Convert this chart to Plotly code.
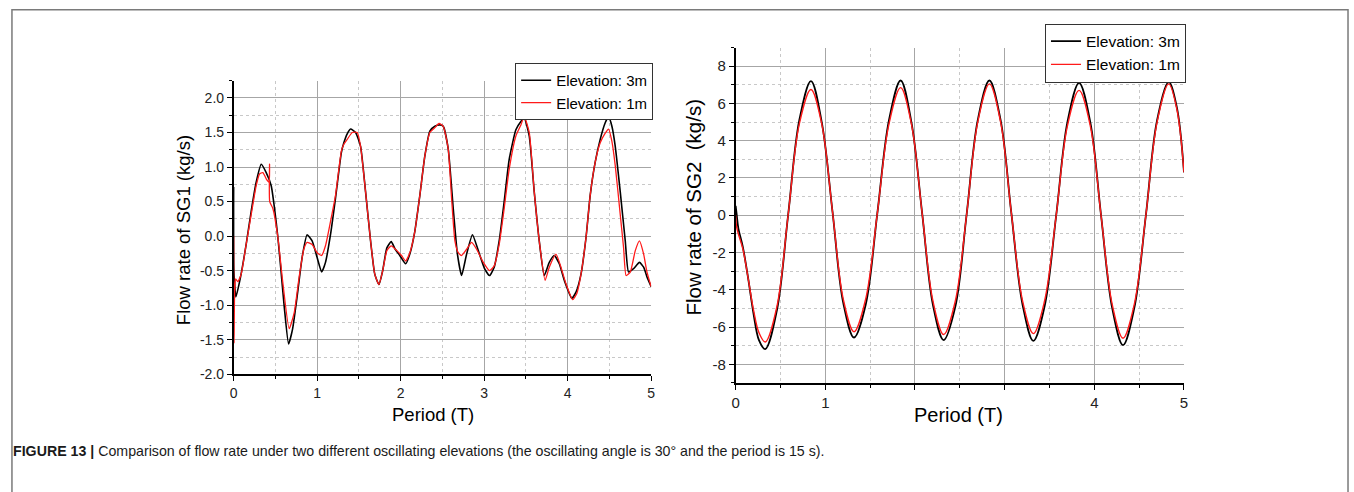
import plotly.graph_objects as go

# ---------------- Data ----------------
# Left panel: flow rate of SG1 (kg/s) vs period (T)
sg1_x_3m = [0, 0.003, 0.027, 0.083, 0.15, 0.21, 0.27, 0.33, 0.39, 0.45,
            0.49, 0.53, 0.567, 0.606, 0.658, 0.705, 0.765, 0.82, 0.88, 0.94,
            1.0, 1.054, 1.10, 1.16, 1.22, 1.29, 1.32, 1.36, 1.40, 1.46,
            1.52, 1.58, 1.64, 1.69, 1.74, 1.785, 1.835, 1.887, 1.935, 1.99,
            2.06, 2.11, 2.17, 2.23, 2.29, 2.35, 2.41, 2.47, 2.51, 2.57,
            2.63, 2.68, 2.73, 2.79, 2.86, 2.93, 3.005, 3.065, 3.12, 3.18,
            3.24, 3.30, 3.38, 3.44, 3.48, 3.54, 3.60, 3.66, 3.72, 3.78,
            3.84, 3.90, 3.96, 4.05, 4.10, 4.16, 4.22, 4.27, 4.33, 4.39,
            4.45, 4.49, 4.53, 4.57, 4.63, 4.69, 4.73, 4.79, 4.86, 4.91,
            4.95, 5.0]
sg1_y_3m = [0.71, -0.5, -0.88, -0.59, -0.12, 0.36, 0.78, 1.04, 0.92, 0.73,
            0.40, -0.02, -0.50, -1.02, -1.56, -1.35, -0.83, -0.31, 0.02, -0.07,
            -0.31, -0.52, -0.38, 0.02, 0.55, 1.21, 1.35, 1.48, 1.55, 1.50,
            1.30, 0.64, -0.07, -0.55, -0.70, -0.50, -0.17, -0.08, -0.19, -0.28,
            -0.40, -0.26, 0.07, 0.59, 1.16, 1.52, 1.59, 1.61, 1.59, 1.26,
            0.40, -0.26, -0.57, -0.26, 0.02, -0.21, -0.47, -0.57, -0.45, -0.07,
            0.50, 1.11, 1.54, 1.66, 1.71, 1.45, 0.64, -0.07, -0.57, -0.38,
            -0.28, -0.40, -0.64, -0.90, -0.81, -0.55, -0.02, 0.59, 1.07, 1.40,
            1.64, 1.73, 1.59, 1.30, 0.64, -0.07, -0.52, -0.47, -0.38, -0.45,
            -0.59, -0.73]

sg1_x_1m = [0, 0.005, 0.012, 0.025, 0.05, 0.09, 0.15, 0.21, 0.27, 0.31,
            0.35, 0.39, 0.425, 0.43, 0.432, 0.47, 0.53, 0.586, 0.665, 0.725,
            0.785, 0.84, 0.88, 0.94, 1.0, 1.054, 1.10, 1.16, 1.22, 1.29,
            1.32, 1.36, 1.42, 1.48, 1.52, 1.58, 1.64, 1.69, 1.74, 1.785,
            1.835, 1.887, 1.955, 2.01, 2.06, 2.11, 2.17, 2.23, 2.29, 2.35,
            2.41, 2.46, 2.51, 2.57, 2.61, 2.65, 2.69, 2.73, 2.79, 2.85,
            2.91, 2.99, 3.065, 3.12, 3.18, 3.24, 3.30, 3.38, 3.44, 3.48,
            3.54, 3.60, 3.66, 3.73, 3.78, 3.86, 3.92, 3.98, 4.06, 4.11,
            4.16, 4.22, 4.27, 4.33, 4.39, 4.45, 4.49, 4.53, 4.57, 4.63,
            4.67, 4.70, 4.75, 4.81, 4.86, 4.91, 4.95, 5.0]
sg1_y_1m = [0.0, -1.55, -0.8, -0.62, -0.66, -0.55, -0.12, 0.31, 0.73, 0.90,
            0.92, 0.83, 0.78, 1.04, 0.50, 0.40, -0.02, -0.64, -1.34, -1.11,
            -0.59, -0.19, -0.09, -0.12, -0.24, -0.28, -0.14, 0.21, 0.59, 1.23,
            1.33, 1.40, 1.50, 1.50, 1.30, 0.64, -0.07, -0.55, -0.70, -0.50,
            -0.21, -0.14, -0.21, -0.28, -0.36, -0.24, 0.07, 0.59, 1.16, 1.50,
            1.57, 1.63, 1.59, 1.26, 0.55, -0.07, -0.24, -0.28, -0.19, -0.09,
            -0.19, -0.38, -0.50, -0.43, -0.12, 0.40, 0.97, 1.45, 1.61, 1.73,
            1.50, 0.64, -0.07, -0.64, -0.45, -0.26, -0.45, -0.69, -0.92, -0.83,
            -0.55, -0.02, 0.59, 1.07, 1.35, 1.49, 1.55, 1.37, 1.02, 0.31,
            -0.17, -0.57, -0.52, -0.21, -0.07, -0.26, -0.52, -0.73]

# Right panel: flow rate of SG2 (kg/s) vs period (T)
sg2_x = [0, 0.01, 0.03, 0.08, 0.14, 0.2, 0.26, 0.33,
         0.46, 0.585, 0.71, 0.84,
         0.96, 1.08, 1.2, 1.32,
         1.45, 1.58, 1.71, 1.84,
         1.96, 2.08, 2.2, 2.32,
         2.45, 2.575, 2.70, 2.83,
         2.955, 3.075, 3.2, 3.32,
         3.445, 3.575, 3.70, 3.83,
         3.955, 4.075, 4.2, 4.32,
         4.445, 4.575, 4.70, 4.83,
         4.92, 5.0]
sg2_y_3m = [0.5, 0.1, -0.7, -1.7, -3.4, -5.3, -6.7, -7.18,
            -5.1, 0.0, 5.1, 7.2,
            5.0, 0.2, -4.7, -6.56,
            -4.8, 0.1, 5.1, 7.23,
            5.0, 0.1, -4.8, -6.7,
            -4.9, 0.0, 5.1, 7.23,
            5.1, 0.1, -4.8, -6.74,
            -4.9, 0.0, 5.0, 7.1,
            5.0, 0.0, -5.0, -6.97,
            -5.0, 0.0, 5.1, 7.14,
            5.8, 2.3]
sg2_y_1m = [0.0, -0.6, -1.0, -1.8, -3.4, -5.1, -6.3, -6.8,
            -4.9, 0.0, 4.9, 6.75,
            4.9, 0.2, -4.5, -6.25,
            -4.5, 0.1, 4.9, 6.85,
            4.9, 0.1, -4.6, -6.4,
            -4.6, 0.0, 5.0, 7.05,
            5.0, 0.1, -4.6, -6.35,
            -4.6, 0.0, 4.8, 6.7,
            4.8, 0.0, -4.8, -6.6,
            -4.8, 0.0, 5.0, 7.05,
            5.7, 2.3]

series_names = ["Elevation: 3m", "Elevation: 1m"]
left_yticks = [-2.0, -1.5, -1.0, -0.5, 0.0, 0.5, 1.0, 1.5, 2.0]
right_yticks = [-8, -6, -4, -2, 0, 2, 4, 6, 8]
x_ticks = [0, 1, 2, 3, 4, 5]
left_xticktext = ["0", "1", "2", "3", "4", "5"]
right_xticktext = ["0", "1", "", "", "4", "5"]

# ---------------- Figure ----------------
W, H = 1354, 492
FONT = "Liberation Sans, Arial, sans-serif"
BLACK = "#000000"
RED = "#ff1a1a"

fig = go.Figure()
fig.add_trace(go.Scatter(x=sg1_x_3m, y=sg1_y_3m, name=series_names[0], mode="lines",
                         line=dict(color=BLACK, width=1.6, shape="spline", smoothing=0.5),
                         xaxis="x", yaxis="y", legend="legend"))
fig.add_trace(go.Scatter(x=sg1_x_1m, y=sg1_y_1m, name=series_names[1], mode="lines",
                         line=dict(color=RED, width=1.3, shape="spline", smoothing=0.5),
                         xaxis="x", yaxis="y", legend="legend"))
fig.add_trace(go.Scatter(x=sg2_x, y=sg2_y_3m, name=series_names[0], mode="lines",
                         line=dict(color=BLACK, width=1.8, shape="spline", smoothing=1.0),
                         xaxis="x2", yaxis="y2", legend="legend2"))
fig.add_trace(go.Scatter(x=sg2_x, y=sg2_y_1m, name=series_names[1], mode="lines",
                         line=dict(color=RED, width=1.4, shape="spline", smoothing=1.0),
                         xaxis="x2", yaxis="y2", legend="legend2"))

GRID = "#a6a6a6"
MINOR = "#c8c8c8"


def axis_common(fs):
    return dict(showline=True, linecolor=BLACK, linewidth=1.5, ticks="outside",
                ticklen=5, tickwidth=1, tickcolor=BLACK, showgrid=True,
                gridcolor=GRID, gridwidth=1, zeroline=False,
                tickfont=dict(family=FONT, size=fs, color="#222222"))


xa = axis_common(14)
xa.update(domain=[231 / W, 651 / W], range=[0, 5], anchor="y",
          tickvals=x_ticks, ticktext=left_xticktext,
          minor=dict(dtick=0.5, tick0=0, ticks="outside", ticklen=3, tickcolor=BLACK,
                     showgrid=True, gridcolor=MINOR, griddash="dot", gridwidth=1))
ya = axis_common(14)
ya.update(domain=[1 - 380.5 / H, 1 - 82 / H], range=[-2.0, 2.25], anchor="x",
          tickvals=left_yticks, ticktext=[f"{v:.1f}" for v in left_yticks],
          minor=dict(dtick=0.25, tick0=0, ticks="outside", ticklen=3, tickcolor=BLACK,
                     showgrid=True, gridcolor=MINOR, griddash="dot", gridwidth=1))
xa2 = axis_common(15)
xa2.update(domain=[736 / W, 1187 / W], range=[0, 5], anchor="y2",
           tickvals=x_ticks, ticktext=right_xticktext,
           minor=dict(dtick=0.5, tick0=0, ticks="outside", ticklen=3, tickcolor=BLACK,
                      showgrid=True, gridcolor=MINOR, griddash="dot", gridwidth=1))
ya2 = axis_common(15)
ya2.update(domain=[1 - 389.3 / H, 1 - 48.3 / H], range=[-9, 9], anchor="x2",
           tickvals=right_yticks, ticktext=[str(v) for v in right_yticks],
           minor=dict(dtick=1, tick0=0, ticks="outside", ticklen=3, tickcolor=BLACK,
                      showgrid=True, gridcolor=MINOR, griddash="dot", gridwidth=1))

legend_common = dict(bgcolor="white", bordercolor="#333333", borderwidth=1,
                     xanchor="right", yanchor="top", tracegroupgap=0,
                     itemclick=False, itemdoubleclick=False)
leg1 = dict(legend_common, x=653 / W, y=1 - 64 / H,
            font=dict(family=FONT, size=15, color=BLACK))
leg2 = dict(legend_common, x=1189 / W, y=1 - 24 / H,
            font=dict(family=FONT, size=15.5, color=BLACK))

annotations = [
    dict(text="Period (T)", x=432 / W, y=1 - 421 / H, xref="paper", yref="paper",
         showarrow=False, font=dict(family=FONT, size=18.5, color=BLACK),
         xanchor="center", yanchor="middle"),
    dict(text="Period (T)", x=960 / W, y=1 - 422 / H, xref="paper", yref="paper",
         showarrow=False, font=dict(family=FONT, size=20, color=BLACK),
         xanchor="center", yanchor="middle"),
    dict(text="Flow rate of SG1 (kg/s)", x=180 / W, y=1 - 234 / H, xref="paper",
         yref="paper", showarrow=False, textangle=-90,
         font=dict(family=FONT, size=18.5, color=BLACK),
         xanchor="center", yanchor="middle"),
    dict(text="Flow rate of SG2  (kg/s)", x=694 / W, y=1 - 211 / H, xref="paper",
         yref="paper", showarrow=False, textangle=-90,
         font=dict(family=FONT, size=20.5, color=BLACK),
         xanchor="center", yanchor="middle"),
    dict(text="<b>FIGURE 13 |</b> Comparison of flow rate under two different oscillating "
              "elevations (the oscillating angle is 30° and the period is 15 s).",
         x=7 / W, y=1 - 458 / H, xref="paper", yref="paper", showarrow=False,
         font=dict(family=FONT, size=14.2, color="#1a1a1a"),
         xanchor="left", yanchor="middle"),
]

shapes = [
    dict(type="rect", xref="paper", yref="paper", x0=8 / W, x1=1352 / W,
         y0=-0.2, y1=1 - 10 / H, line=dict(color="#7a7a7a", width=1.5),
         fillcolor="rgba(0,0,0,0)", layer="below"),
]

fig.update_layout(
    width=W, height=H, autosize=False,
    margin=dict(l=0, r=0, t=0, b=0),
    paper_bgcolor="white", plot_bgcolor="white",
    xaxis=xa, yaxis=ya, xaxis2=xa2, yaxis2=ya2,
    legend=leg1, legend2=leg2,
    annotations=annotations, shapes=shapes,
    showlegend=True,
)

post = (
    "document.documentElement.style.overflow='hidden';"
    "document.body.style.margin='0';"
    "document.body.style.overflow='hidden';"
    "var gd=document.getElementById('{plot_id}');"
    "gd.style.position='fixed';gd.style.top='0px';gd.style.left='0px';"
    "Plotly.relayout(gd,{width:window.innerWidth,height:window.innerHeight});"
)
fig.write_html("out.html", config={"displayModeBar": False}, post_script=post)
